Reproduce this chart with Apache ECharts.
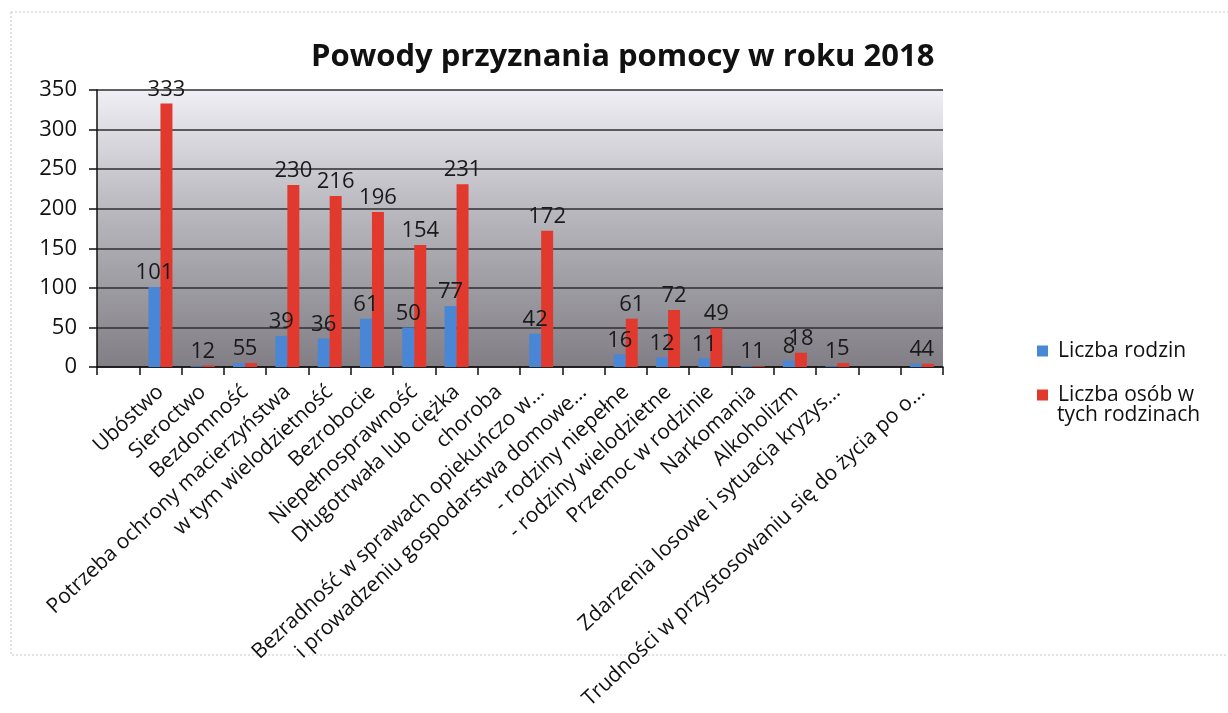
<!DOCTYPE html>
<html>
<head>
<meta charset="utf-8">
<script src="https://cdn.jsdelivr.net/npm/echarts@6/dist/echarts.min.js"></script>
<style>
html,body{margin:0;padding:0;background:#fff;}
#chart{width:1228px;height:713px;}
</style>
</head>
<body>
<div id="chart"></div>
<script>
const titleText = 'Powody przyznania pomocy w roku 2018';
const categories = ['', 'Ubóstwo', 'Sieroctwo', 'Bezdomność', 'Potrzeba ochrony macierzyństwa', 'w tym wielodzietność', 'Bezrobocie', 'Niepełnosprawność', 'Długotrwała lub ciężka', 'choroba', 'Bezradność w sprawach opiekuńczo w...', 'i prowadzeniu gospodarstwa domowe...', '- rodziny niepełne', '- rodziny wielodzietne', 'Przemoc w rodzinie', 'Narkomania', 'Alkoholizm', 'Zdarzenia losowe i sytuacja kryzys...', ' ', 'Trudności w przystosowaniu się do życia po o...'];
const seriesNames = ['Liczba rodzin', 'Liczba osób w tych rodzinach'];
const legendLines = ['Liczba osób w', 'tych rodzinach'];
const families = [null, 101, 1, 5, 39, 36, 61, 50, 77, null, 42, null, 16, 12, 11, 1, 8, 1, null, 4];
const persons = [null, 333, 2, 5, 230, 216, 196, 154, 231, null, 172, null, 61, 72, 49, 1, 18, 5, null, 4];
const yTicks = [0, 50, 100, 150, 200, 250, 300, 350];

const chart = echarts.init(document.getElementById('chart'));
const font = 'Open Sans';
const labelStyle = {show: true, position: 'top', distance: 3, color: '#1a1a1a', fontFamily: font, fontSize: 22};
const legendText = {fontFamily: font, fontSize: 21, color: '#111', lineHeight: 24, padding: [0, 0, 0, 5]};
chart.setOption({
  animation: false,
  backgroundColor: '#fff',
  title: {
    text: titleText, left: 306, top: 37,
    textStyle: {fontFamily: font, fontWeight: 'bold', fontSize: 31, color: '#111'}
  },
  legend: [{
    orient: 'vertical', left: 1032, top: 334, itemWidth: 11, itemHeight: 11,
    icon: 'rect', data: [seriesNames[0]], textStyle: legendText
  }, {
    orient: 'vertical', left: 1032, top: 378, itemWidth: 11, itemHeight: 11,
    icon: 'rect', data: [seriesNames[1]],
    formatter: function () { return legendLines[0]; },
    textStyle: legendText
  }],
  graphic: [{
    type: 'rect', shape: {x: 11, y: 12, width: 1240, height: 643},
    style: {fill: 'none', stroke: '#c8c8c8', lineWidth: 1, lineDash: [2, 2]}, silent: true, z: -1
  }, {
    type: 'text', left: 1057, top: 405,
    style: {text: legendLines[1], fontFamily: font, fontSize: 21, fill: '#111'}
  }],
  grid: {
    left: 97, right: 285, top: 90, bottom: 346, show: true, borderWidth: 0,
    backgroundColor: new echarts.graphic.LinearGradient(0, 0, 0, 1, [
      {offset: 0, color: '#efeff5'},
      {offset: 0.4, color: '#bdbcc3'},
      {offset: 1, color: '#817e85'}
    ])
  },
  xAxis: {
    type: 'category', data: categories,
    axisLine: {lineStyle: {color: '#111', width: 1.5}},
    axisTick: {show: true, alignWithLabel: false, length: 8, interval: 0, lineStyle: {color: '#111', width: 1.5}},
    axisLabel: {interval: 0, rotate: 43, margin: 22, color: '#111', fontFamily: font, fontSize: 21}
  },
  yAxis: {
    type: 'value', min: 0, max: 350, interval: 50,
    axisLine: {show: true, lineStyle: {color: '#111', width: 1.5}},
    axisTick: {show: true, length: 8, lineStyle: {color: '#111', width: 1.5}},
    axisLabel: {margin: 20, color: '#111', fontFamily: font, fontSize: 22,
      formatter: function (v) { return yTicks.indexOf(v) >= 0 ? String(v) : ''; }},
    splitLine: {lineStyle: {color: '#2e2e2e', width: 1.5}}
  },
  series: [
    {name: seriesNames[0], type: 'bar', data: families, barWidth: 12, barGap: '0%',
      itemStyle: {color: '#4a86d6'}, label: labelStyle},
    {name: seriesNames[1], type: 'bar', data: persons, barWidth: 12, barGap: '0%',
      itemStyle: {color: '#e2392f'}, label: labelStyle}
  ]
});
</script>
</body>
</html>
